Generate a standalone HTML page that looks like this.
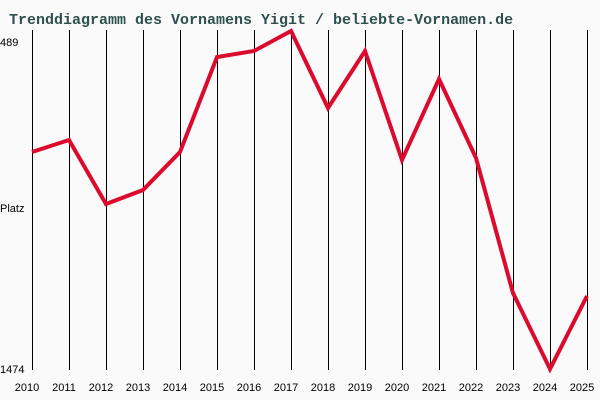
<!DOCTYPE html>
<html><head><style>
html,body{margin:0;padding:0;background:#fafafa;}
svg{display:block;}
</style></head><body>
<svg width="600" height="400" xmlns="http://www.w3.org/2000/svg">
<rect width="600" height="400" fill="#fafafa"/>
<text x="9" y="24" font-family="Liberation Mono, monospace" font-size="15" font-weight="bold" fill="#2f4f4f">Trenddiagramm des Vornamens Yigit / beliebte-Vornamen.de</text>
<g stroke="#000" stroke-width="1">
<line x1="32.5" y1="30" x2="32.5" y2="370"/>
<line x1="69.5" y1="30" x2="69.5" y2="370"/>
<line x1="106.5" y1="30" x2="106.5" y2="370"/>
<line x1="143.5" y1="30" x2="143.5" y2="370"/>
<line x1="180.5" y1="30" x2="180.5" y2="370"/>
<line x1="217.5" y1="30" x2="217.5" y2="370"/>
<line x1="254.5" y1="30" x2="254.5" y2="370"/>
<line x1="291.5" y1="30" x2="291.5" y2="370"/>
<line x1="328.5" y1="30" x2="328.5" y2="370"/>
<line x1="365.5" y1="30" x2="365.5" y2="370"/>
<line x1="402.5" y1="30" x2="402.5" y2="370"/>
<line x1="439.5" y1="30" x2="439.5" y2="370"/>
<line x1="476.5" y1="30" x2="476.5" y2="370"/>
<line x1="513.5" y1="30" x2="513.5" y2="370"/>
<line x1="550.5" y1="30" x2="550.5" y2="370"/>
<line x1="587.5" y1="30" x2="587.5" y2="370"/>
</g>
<polyline fill="none" stroke="#dc0a2d" stroke-width="4" stroke-linejoin="miter" points="32,152 69,140 106,204 143,190 180,152 217,57 254,51 291,31 328,108 365,51 402,160 439,79 476,158 513,293 550,369 587,296"/>
<g font-family="Liberation Sans, sans-serif" font-size="11" fill="#000">
<text x="0" y="46">489</text>
<text x="0" y="212">Platz</text>
<text x="0" y="373">1474</text>
</g>
<g font-family="Liberation Sans, sans-serif" font-size="11" fill="#000" text-anchor="middle">
<text x="27" y="391">2010</text><text x="64" y="391">2011</text><text x="101" y="391">2012</text><text x="138" y="391">2013</text><text x="175" y="391">2014</text><text x="212" y="391">2015</text><text x="249" y="391">2016</text><text x="286" y="391">2017</text><text x="323" y="391">2018</text><text x="360" y="391">2019</text><text x="397" y="391">2020</text><text x="434" y="391">2021</text><text x="471" y="391">2022</text><text x="508" y="391">2023</text><text x="545" y="391">2024</text><text x="582" y="391">2025</text>
</g>
</svg>
</body></html>
